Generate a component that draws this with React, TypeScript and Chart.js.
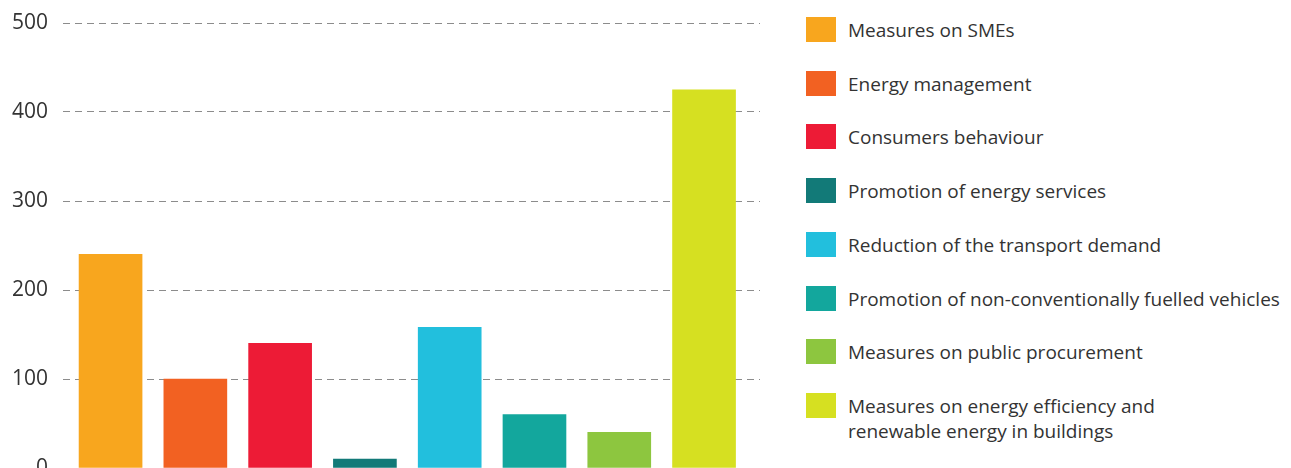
import React, { useEffect, useRef } from "react";
import { Chart, registerables } from "chart.js";

Chart.register(...registerables);

const categories: string[] = [
  "Measures on SMEs",
  "Energy management",
  "Consumers behaviour",
  "Promotion of energy services",
  "Reduction of the transport demand",
  "Promotion of non-conventionally fuelled vehicles",
  "Measures on public procurement",
  "Measures on energy efficiency and\nrenewable energy in buildings",
];

const values: number[] = [240, 100, 140, 10, 158, 60, 40, 425];

const colors: string[] = [
  "#F8A61E",
  "#F26122",
  "#ED1B36",
  "#127A78",
  "#22BFDD",
  "#13A79D",
  "#8DC63F",
  "#D6E021",
];

const yTicks: number[] = [0, 100, 200, 300, 400, 500];

const FONT = "'Open Sans', sans-serif";
const TEXT_COLOR = "#333333";

export default function App() {
  const canvasRef = useRef<HTMLCanvasElement | null>(null);

  useEffect(() => {
    if (!canvasRef.current) return;
    const chart = new Chart(canvasRef.current, {
      type: "bar",
      data: {
        datasets: [
          {
            data: values.map((v, i) => ({ x: i, y: v })),
            backgroundColor: colors,
            borderWidth: 0,
            barThickness: 63,
          },
        ],
      },
      options: {
        animation: false,
        responsive: true,
        maintainAspectRatio: false,
        layout: { padding: { top: 23, bottom: 20, left: 0, right: 20 } },
        plugins: {
          legend: { display: false },
          tooltip: { enabled: false },
        },
        scales: {
          x: {
            type: "linear",
            display: false,
            offset: false,
            min: -0.561,
            max: 7.66,
          },
          y: {
            min: 0,
            max: 500,
            afterFit: (scale: any) => {
              scale.width = 63;
              scale.paddingTop = 0;
              scale.paddingBottom = 0;
            },
            afterBuildTicks: (scale: any) => {
              scale.ticks = yTicks.map((v) => ({ value: v }));
            },
            border: { display: false, dash: [7, 5] },
            grid: {
              color: (ctx: any) =>
                ctx.tick && ctx.tick.value === 0 ? "rgba(0,0,0,0)" : "#8c8c8c",
              lineWidth: 1,
              drawTicks: false,
            },
            ticks: {
              padding: 15,
              color: TEXT_COLOR,
              font: { family: FONT, size: 21 },
            },
          },
        },
      },
    } as any);
    return () => chart.destroy();
  }, []);

  return (
    <div
      style={{
        position: "absolute",
        left: 0,
        top: 0,
        width: 1291,
        height: 488,
        background: "#ffffff",
      }}
    >
      <div style={{ position: "absolute", left: 0, top: 0, width: 780, height: 488 }}>
        <canvas ref={canvasRef} />
      </div>
      {categories.map((label, i) => (
        <div key={i}>
          <div
            style={{
              position: "absolute",
              left: 806,
              top: 17 + 53.7 * i,
              width: 30,
              height: 25,
              background: colors[i],
            }}
          />
          <div
            style={{
              position: "absolute",
              left: 848,
              top: 17 + 53.7 * i + 1,
              fontFamily: FONT,
              fontSize: 19,
              lineHeight: "25px",
              color: TEXT_COLOR,
              whiteSpace: "pre",
            }}
          >
            {label}
          </div>
        </div>
      ))}
    </div>
  );
}
